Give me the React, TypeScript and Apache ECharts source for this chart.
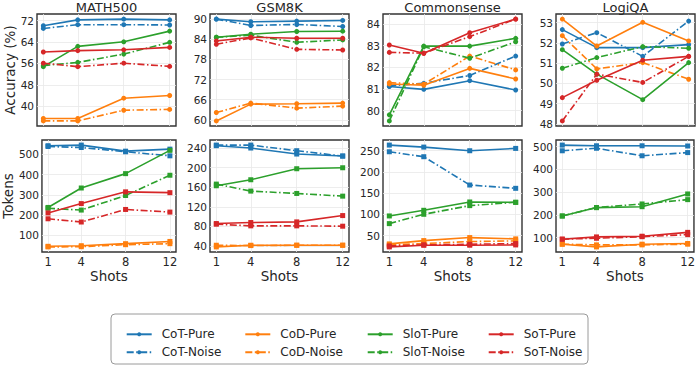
import React, { useEffect, useRef } from "react";
import * as echarts from "echarts";

const shots = [1, 4, 8, 12];
const seriesNames = ["CoT-Pure", "CoT-Noise", "CoD-Pure", "CoD-Noise", "SloT-Pure", "SloT-Noise", "SoT-Pure", "SoT-Noise"];
const seriesColors = ["#1f77b4", "#1f77b4", "#ff7f0e", "#ff7f0e", "#2ca02c", "#2ca02c", "#d62728", "#d62728"];
const datasets = ["MATH500", "GSM8K", "Commonsense", "LogiQA"];

// Accuracy (%) — order follows seriesNames
const accMATH500 = [
  [70.1, 72.3, 72.6, 72.3],
  [69.1, 70.5, 70.5, 70.4],
  [35.4, 35.4, 43.0, 44.0],
  [34.5, 34.5, 38.5, 38.8],
  [54.8, 62.4, 64.1, 68.1],
  [55.2, 56.4, 59.5, 63.9],
  [60.3, 60.8, 61.1, 62.0],
  [56.1, 54.8, 56.1, 54.9],
];
const accGSM8K = [
  [90.0, 89.2, 89.4, 89.6],
  [90.0, 88.1, 88.4, 87.8],
  [59.7, 64.7, 64.8, 65.0],
  [62.2, 65.0, 63.5, 64.1],
  [84.6, 85.5, 86.3, 86.4],
  [84.6, 85.2, 83.1, 83.8],
  [83.5, 84.6, 84.3, 84.3],
  [82.5, 84.4, 81.0, 80.8],
];
const accCommonsense = [
  [81.11, 80.98, 81.38, 80.95],
  [81.14, 81.26, 81.62, 82.52],
  [81.23, 81.17, 81.95, 81.46],
  [81.29, 81.22, 82.52, 81.88],
  [79.8, 82.98, 82.98, 83.34],
  [79.52, 82.95, 82.42, 83.18],
  [83.03, 82.65, 83.6, 84.23],
  [82.69, 82.65, 83.42, 84.23],
];
const accLogiQA = [
  [52.66, 51.77, 51.77, 51.92],
  [51.95, 52.51, 51.34, 53.08],
  [53.18, 51.85, 53.02, 52.1],
  [52.36, 50.72, 51.03, 50.21],
  [51.67, 50.46, 49.2, 51.03],
  [50.75, 51.28, 51.82, 51.74],
  [49.3, 50.16, 51.15, 51.34],
  [48.15, 50.46, 50.05, 51.34],
];

// Tokens — order follows seriesNames
const tokMATH500 = [
  [543, 546, 516, 526],
  [539, 534, 513, 493],
  [46, 49, 59, 70],
  [43, 44, 54, 59],
  [238, 334, 405, 520],
  [234, 225, 297, 397],
  [211, 257, 315, 311],
  [182, 166, 228, 215],
];
const tokGSM8K = [
  [244.8, 240, 227.7, 223.6],
  [246, 246, 234.5, 223.6],
  [38, 41.4, 41.4, 41.4],
  [41.4, 40.7, 41.4, 41.4],
  [162.9, 175.2, 197.7, 199.7],
  [166.3, 152, 147.2, 141.7],
  [85.7, 87.8, 89.1, 102],
  [84.4, 81, 81, 80.3],
];
const tokCommonsense = [
  [263.3, 258.6, 250, 255.5],
  [247.6, 235.9, 169.2, 161.4],
  [30.4, 38.2, 45.3, 42.2],
  [28, 31.2, 35.9, 37.5],
  [96.3, 109.6, 129.2, 128.4],
  [78.2, 100.2, 120.6, 128.4],
  [23.3, 27.3, 27.3, 28],
  [25.7, 28, 29.6, 31.2],
];
const tokLogiQA = [
  [507, 504, 504, 503],
  [482, 493, 460, 474],
  [71, 59, 71, 74],
  [71, 68, 68, 71],
  [195, 232, 236, 292],
  [195, 232, 248, 267],
  [93, 103, 106, 123],
  [93, 97, 104, 113],
];

const accTicks = [
  [40, 48, 56, 64, 72],
  [60, 66, 72, 78, 84, 90],
  [80, 81, 82, 83, 84],
  [48, 49, 50, 51, 52, 53],
];
const tokTicks = [
  [100, 200, 300, 400, 500],
  [40, 80, 120, 160, 200, 240],
  [50, 100, 150, 200, 250],
  [100, 200, 300, 400, 500],
];

const accPanels = [accMATH500, accGSM8K, accCommonsense, accLogiQA];
const tokPanels = [tokMATH500, tokGSM8K, tokCommonsense, tokLogiQA];

const FONT = "DejaVu Sans";
const TEXT = "#262626";
const GRID_LEFTS = [37, 210, 383, 556];
const GRID_W = 139;
const GRID_TOPS = [14, 140];
const GRID_H = 112;
const DASHDOT = [7, 2.5, 1.5, 2.5];

function buildOption() {
  const grid: any[] = [];
  const xAxis: any[] = [];
  const yAxis: any[] = [];
  const series: any[] = [];
  const graphic: any[] = [];

  const rows = [accPanels, tokPanels];
  const ticksRows = [accTicks, tokTicks];

  for (let r = 0; r < 2; r++) {
    for (let c = 0; c < 4; c++) {
      const idx = r * 4 + c;
      const panel = rows[r][c];
      const ticks = ticksRows[r][c];
      let lo = Infinity;
      let hi = -Infinity;
      panel.forEach((arr) => arr.forEach((v) => { lo = Math.min(lo, v); hi = Math.max(hi, v); }));
      const pad = (hi - lo) * 0.05;

      grid.push({
        left: GRID_LEFTS[c], top: GRID_TOPS[r], width: GRID_W, height: GRID_H,
        show: true, borderColor: "#333333", borderWidth: 1.4, backgroundColor: "transparent",
      });
      xAxis.push({
        type: "value", gridIndex: idx, min: 0.45, max: 12.55,
        axisLine: { show: false },
        axisTick: { show: false, customValues: shots },
        axisLabel: { show: r === 1, customValues: shots, fontFamily: FONT, fontSize: 11.5, color: TEXT, margin: 4 },
        splitLine: { show: true, lineStyle: { color: "#e8e8e8", width: 0.8 } },
        name: r === 1 ? "Shots" : "",
        nameLocation: "middle", nameGap: 12,
        nameTextStyle: { fontFamily: FONT, fontSize: 13.5, color: TEXT },
      });
      yAxis.push({
        type: "value", gridIndex: idx, min: lo - pad, max: hi + pad,
        axisLine: { show: false },
        axisTick: { show: false, customValues: ticks },
        axisLabel: { customValues: ticks, fontFamily: FONT, fontSize: 10.5, color: TEXT, margin: 3 },
        splitLine: { show: true, lineStyle: { color: "#e8e8e8", width: 0.8 } },
        name: c === 0 ? (r === 0 ? "Accuracy (%)" : "Tokens") : "",
        nameLocation: "middle", nameGap: r === 0 ? 16 : 23,
        nameTextStyle: { fontFamily: FONT, fontSize: 13.5, color: TEXT },
      });
      seriesNames.forEach((name, si) => {
        const noise = name.endsWith("Noise");
        series.push({
          type: "line", name, xAxisIndex: idx, yAxisIndex: idx,
          data: shots.map((s, k) => [s, panel[si][k]]),
          symbol: r === 0 ? "circle" : "rect",
          symbolSize: 5,
          showSymbol: true,
          color: seriesColors[si],
          lineStyle: { width: 1.6, type: noise ? DASHDOT : "solid", color: seriesColors[si] },
          itemStyle: { color: seriesColors[si] },
          emphasis: { disabled: true },
          z: 2 + si,
        });
      });
      if (r === 0) {
        graphic.push({
          type: "text", x: GRID_LEFTS[c] + GRID_W / 2, y: 7,
          style: { text: datasets[c], fontFamily: FONT, fontSize: 13, fill: TEXT, textAlign: "center", textVerticalAlign: "middle" },
        });
      }
    }
  }

  graphic.push({
    type: "rect", shape: { x: 111, y: 314, width: 477, height: 50, r: 4 },
    style: { fill: "#ffffff", stroke: "#9a9a9a", lineWidth: 1 }, z: -1,
  });

  const legendLefts = [120.7, 239.3, 361.7, 482.7];
  const legend = legendLefts.map((lx, i) => ({
    orient: "vertical", left: lx, top: 323.3,
    itemWidth: 25, itemHeight: 5, itemGap: 6,
    selectedMode: false,
    data: [seriesNames[i * 2], seriesNames[i * 2 + 1]],
    textStyle: { fontFamily: FONT, fontSize: 12, color: TEXT, padding: [0, 0, 0, 5] },
  }));

  return {
    animation: false,
    backgroundColor: "#ffffff",
    textStyle: { fontFamily: FONT },
    grid, xAxis, yAxis, series, graphic, legend,
  };
}

export default function App() {
  const ref = useRef<HTMLDivElement>(null);
  useEffect(() => {
    if (!ref.current) return;
    const chart = echarts.init(ref.current, undefined, { renderer: "svg" });
    chart.setOption(buildOption() as any);
    return () => chart.dispose();
  }, []);
  return <div ref={ref} style={{ width: 698, height: 365, position: "absolute", left: 0, top: 0 }} />;
}
